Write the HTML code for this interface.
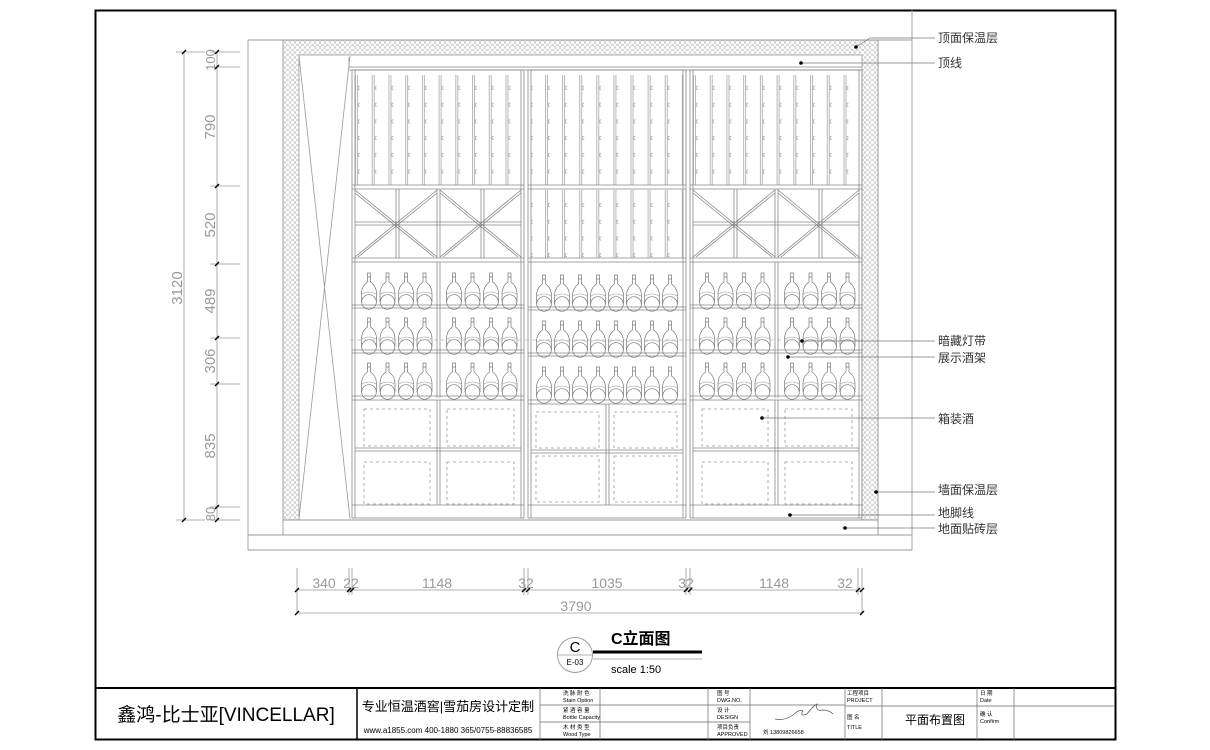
<!DOCTYPE html>
<html><head><meta charset="utf-8">
<style>
html,body{margin:0;padding:0;background:#fff;}
svg{display:block;}
text{font-family:"Liberation Sans","Noto Sans CJK SC",sans-serif;}
</style></head>
<body>
<svg width="1210" height="750" viewBox="0 0 1210 750" xmlns="http://www.w3.org/2000/svg">
<defs>
  <pattern id="hex" x="0" y="0" width="5" height="5" patternUnits="userSpaceOnUse">
    <circle cx="2.5" cy="2.5" r="2.1" fill="none" stroke="#aaa" stroke-width="0.5"/>
  </pattern>
  <pattern id="peg" x="355" y="80" width="16.72" height="16.72" patternUnits="userSpaceOnUse">
    <line x1="0.5" y1="0" x2="0.5" y2="16.72" stroke="#999" stroke-width="0.7"/>
    <line x1="2.5" y1="0" x2="2.5" y2="16.72" stroke="#999" stroke-width="0.7"/>
    <path d="M-2 6.5 h1.5 v3 h-1.5 M5 6.5 h-1.5 v3 h1.5" fill="none" stroke="#999" stroke-width="0.6"/>
  </pattern>
  <pattern id="pegm" x="545" y="80" width="17.1" height="16.72" patternUnits="userSpaceOnUse">
    <line x1="0.5" y1="0" x2="0.5" y2="16.72" stroke="#999" stroke-width="0.7"/>
    <line x1="2.5" y1="0" x2="2.5" y2="16.72" stroke="#999" stroke-width="0.7"/>
    <path d="M-2 6.5 h1.5 v3 h-1.5 M5 6.5 h-1.5 v3 h1.5" fill="none" stroke="#999" stroke-width="0.6"/>
  </pattern>
  <g id="bottle">
    <path d="M-1.5 0 h3 v4 h-3 z M-1.5 4 v5 q-6 4 -6 12 v8 M1.5 4 v5 q6 4 6 12 v8" fill="none" stroke="#777" stroke-width="0.7"/>
    <circle cx="0" cy="29" r="7.3" fill="none" stroke="#777" stroke-width="0.7"/>
    <path d="M-7 21 q7 -4 14 0" fill="none" stroke="#999" stroke-width="0.6"/>
  </g>
  <g id="row4">
    <use href="#bottle" x="0"/><use href="#bottle" x="18.5"/><use href="#bottle" x="37"/><use href="#bottle" x="55.5"/>
  </g>
  <g id="row8">
    <use href="#bottle" x="0"/><use href="#bottle" x="18"/><use href="#bottle" x="36"/><use href="#bottle" x="54"/>
    <use href="#bottle" x="72"/><use href="#bottle" x="90"/><use href="#bottle" x="108"/><use href="#bottle" x="126"/>
  </g>
  <g id="side" fill="none" stroke="#888" stroke-width="0.8">
    <rect x="352" y="70" width="172" height="448"/>
    <line x1="355" y1="70" x2="355" y2="518"/>
    <line x1="521" y1="70" x2="521" y2="518"/>
    <rect x="355" y="75" width="166" height="110" fill="url(#peg)" stroke="none"/>
    <line x1="352" y1="185" x2="524" y2="185"/><line x1="352" y1="189" x2="524" y2="189"/>
    <line x1="396" y1="189" x2="396" y2="258"/><line x1="399" y1="189" x2="399" y2="258"/>
    <line x1="437" y1="189" x2="437" y2="258"/><line x1="440" y1="189" x2="440" y2="258"/>
    <line x1="481" y1="189" x2="481" y2="258"/><line x1="484" y1="189" x2="484" y2="258"/>
    <line x1="355" y1="222" x2="521" y2="222"/><line x1="355" y1="225" x2="521" y2="225"/>
    <path d="M355 190 L437 257 M355 193 L434 257 M437 190 L355 257 M437 193 L358 257 M440 190 L521 257 M440 193 L518 257 M521 190 L440 257 M521 193 L443 257"/>
    <line x1="352" y1="258" x2="524" y2="258"/><line x1="352" y1="262" x2="524" y2="262"/>
    <line x1="437" y1="262" x2="437" y2="398"/><line x1="440" y1="262" x2="440" y2="398"/>
    <line x1="352" y1="305" x2="524" y2="305"/><line x1="352" y1="308" x2="524" y2="308"/>
    <line x1="352" y1="350" x2="524" y2="350"/><line x1="352" y1="353" x2="524" y2="353"/>
    <line x1="352" y1="396" x2="524" y2="396"/><line x1="352" y1="400" x2="524" y2="400"/>
    <line x1="437" y1="400" x2="437" y2="505"/><line x1="440" y1="400" x2="440" y2="505"/>
    <line x1="355" y1="448" x2="521" y2="448"/><line x1="355" y1="451" x2="521" y2="451"/>
    <line x1="352" y1="505" x2="524" y2="505"/>
    <g stroke-dasharray="3,3" stroke="#999">
      <rect x="364" y="409" width="66" height="37"/><rect x="447" y="409" width="67" height="37"/>
      <rect x="364" y="462" width="66" height="42"/><rect x="447" y="462" width="67" height="42"/>
    </g>
  </g>
  <g id="sideb">
    <use href="#row4" x="369" y="273"/><use href="#row4" x="454" y="273"/>
    <use href="#row4" x="369" y="318"/><use href="#row4" x="454" y="318"/>
    <use href="#row4" x="369" y="363"/><use href="#row4" x="454" y="363"/>
  </g>
</defs>

<rect width="1210" height="750" fill="#fff"/>
<rect x="95.5" y="10.5" width="1020" height="729" fill="none" stroke="#000" stroke-width="2"/>
<line x1="95" y1="688" x2="1116" y2="688" stroke="#000" stroke-width="2"/>

<g fill="none" stroke="#999" stroke-width="0.9">
  <line x1="248" y1="40" x2="912" y2="40"/>
  <line x1="248" y1="40" x2="248" y2="550"/>
  <line x1="912" y1="10" x2="912" y2="550"/>
  <line x1="248" y1="550" x2="912" y2="550"/>
  <line x1="248" y1="535" x2="912" y2="535"/>
  <line x1="283" y1="520" x2="878" y2="520"/>
  <line x1="283" y1="40" x2="283" y2="535"/>
  <line x1="878" y1="40" x2="878" y2="535"/>
</g>
<rect x="283" y="40" width="595" height="15" fill="url(#hex)"/>
<rect x="283" y="55" width="16" height="465" fill="url(#hex)"/>
<rect x="862" y="55" width="16" height="465" fill="url(#hex)"/>
<path d="M283 40 H878 V520 M299 520 V55 H862 V520" fill="none" stroke="#999" stroke-width="0.8"/>
<path d="M299 56 L350 519 M350 56 L299 519" stroke="#999" stroke-width="0.8" fill="none"/>
<line x1="349" y1="57" x2="349" y2="68" stroke="#999" stroke-width="0.8"/>
<line x1="349" y1="67" x2="862" y2="67" stroke="#888" stroke-width="0.8"/>
<line x1="349" y1="70" x2="862" y2="70" stroke="#888" stroke-width="0.8"/>

<use href="#side"/><use href="#sideb"/>
<use href="#side" x="338"/><use href="#sideb" x="338"/>

<g fill="none" stroke="#888" stroke-width="0.8">
  <rect x="528" y="70" width="158" height="448"/>
  <line x1="531" y1="70" x2="531" y2="518"/><line x1="683" y1="70" x2="683" y2="518"/>
  <rect x="531" y="75" width="152" height="110" fill="url(#pegm)" stroke="none"/>
  <line x1="528" y1="185" x2="686" y2="185"/><line x1="528" y1="189" x2="686" y2="189"/>
  <rect x="531" y="190" width="152" height="68" fill="url(#pegm)" stroke="none"/>
  <line x1="528" y1="258" x2="686" y2="258"/><line x1="528" y1="262" x2="686" y2="262"/>
  <line x1="528" y1="307" x2="686" y2="307"/><line x1="528" y1="310" x2="686" y2="310"/>
  <line x1="528" y1="353" x2="686" y2="353"/><line x1="528" y1="356" x2="686" y2="356"/>
  <line x1="528" y1="400" x2="686" y2="400"/><line x1="528" y1="404" x2="686" y2="404"/>
  <line x1="606" y1="404" x2="606" y2="505"/><line x1="609" y1="404" x2="609" y2="505"/>
  <line x1="531" y1="450" x2="683" y2="450"/><line x1="531" y1="453" x2="683" y2="453"/>
  <line x1="528" y1="505" x2="686" y2="505"/>
  <g stroke-dasharray="3,3" stroke="#999">
    <rect x="536" y="412" width="63" height="36"/><rect x="614" y="412" width="63" height="36"/>
    <rect x="536" y="456" width="63" height="46"/><rect x="614" y="456" width="63" height="46"/>
  </g>
</g>
<use href="#row8" x="544" y="275"/>
<use href="#row8" x="544" y="321"/>
<use href="#row8" x="544" y="367"/>
<line x1="350" y1="340" x2="862" y2="340" stroke="#999" stroke-width="0.6" stroke-dasharray="4,3"/>

<g stroke="#999" stroke-width="0.8" fill="none">
  <line x1="184" y1="52" x2="184" y2="520"/>
  <line x1="217" y1="52" x2="217" y2="520"/>
  <line x1="176" y1="52" x2="205" y2="52"/><line x1="176" y1="520" x2="205" y2="520"/>
  <line x1="210" y1="52" x2="240" y2="52"/><line x1="210" y1="67" x2="240" y2="67"/>
  <line x1="210" y1="186" x2="240" y2="186"/><line x1="210" y1="264" x2="240" y2="264"/>
  <line x1="210" y1="338" x2="240" y2="338"/><line x1="210" y1="384" x2="240" y2="384"/>
  <line x1="210" y1="507" x2="240" y2="507"/><line x1="210" y1="520" x2="240" y2="520"/>
</g>
<g stroke="#000" stroke-width="1.4">
  <path d="M182 54 l4 -4 M182 522 l4 -4 M215 54 l4 -4 M215 69 l4 -4 M215 188 l4 -4 M215 266 l4 -4 M215 340 l4 -4 M215 386 l4 -4 M215 509 l4 -4 M215 522 l4 -4"/>
</g>
<g fill="#999" font-size="15" text-anchor="middle">
  <text transform="translate(182,288) rotate(-90)">3120</text>
  <text transform="translate(215,60) rotate(-90)" font-size="13">100</text>
  <text transform="translate(215,127) rotate(-90)">790</text>
  <text transform="translate(215,225) rotate(-90)">520</text>
  <text transform="translate(215,301) rotate(-90)">489</text>
  <text transform="translate(215,361) rotate(-90)">306</text>
  <text transform="translate(215,446) rotate(-90)">835</text>
  <text transform="translate(215,514) rotate(-90)" font-size="13">80</text>
</g>

<g stroke="#999" stroke-width="0.8" fill="none">
  <line x1="297" y1="590" x2="862" y2="590"/>
  <line x1="297" y1="613" x2="862" y2="613"/>
  <line x1="297" y1="568" x2="297" y2="613"/>
  <line x1="349" y1="568" x2="349" y2="595"/><line x1="352" y1="568" x2="352" y2="595"/>
  <line x1="524" y1="568" x2="524" y2="595"/><line x1="528" y1="568" x2="528" y2="595"/>
  <line x1="686" y1="568" x2="686" y2="595"/><line x1="690" y1="568" x2="690" y2="595"/>
  <line x1="858" y1="568" x2="858" y2="595"/><line x1="862" y1="568" x2="862" y2="613"/>
</g>
<g stroke="#000" stroke-width="1.4">
  <path d="M295 592 l4 -4 M295 615 l4 -4 M347 592 l4 -4 M350 592 l4 -4 M522 592 l4 -4 M526 592 l4 -4 M684 592 l4 -4 M688 592 l4 -4 M856 592 l4 -4 M860 592 l4 -4 M860 615 l4 -4"/>
</g>
<g fill="#999" font-size="14" text-anchor="middle">
  <text x="324" y="588">340</text><text x="351" y="588">22</text>
  <text x="437" y="588">1148</text><text x="526" y="588">32</text>
  <text x="607" y="588">1035</text><text x="686" y="588">32</text>
  <text x="774" y="588">1148</text><text x="845" y="588">32</text>
  <text x="576" y="611">3790</text>
</g>

<g stroke="#777" stroke-width="0.7" fill="none">
  <polyline points="856,47 870,38 935,38"/>
  <line x1="801" y1="63" x2="935" y2="63"/>
  <line x1="802" y1="341" x2="935" y2="341"/>
  <line x1="788" y1="357" x2="935" y2="357"/>
  <line x1="762" y1="418" x2="935" y2="418"/>
  <line x1="876" y1="492" x2="935" y2="492"/>
  <line x1="790" y1="515" x2="935" y2="515"/>
  <line x1="845" y1="528" x2="935" y2="528"/>
</g>
<g fill="#000">
  <circle cx="856" cy="47" r="1.8"/><circle cx="801" cy="63" r="1.8"/>
  <circle cx="802" cy="341" r="1.8"/><circle cx="788" cy="357" r="1.8"/>
  <circle cx="762" cy="418" r="1.8"/><circle cx="876" cy="492" r="1.8"/>
  <circle cx="790" cy="515" r="1.8"/><circle cx="845" cy="528" r="1.8"/>
</g>
<g fill="#333" font-size="12">
  <text x="938" y="42">顶面保温层</text>
  <text x="938" y="67">顶线</text>
  <text x="938" y="345">暗藏灯带</text>
  <text x="938" y="362">展示酒架</text>
  <text x="938" y="423">箱装酒</text>
  <text x="938" y="494">墙面保温层</text>
  <text x="938" y="517">地脚线</text>
  <text x="938" y="533">地面贴砖层</text>
</g>

<circle cx="575" cy="655" r="17.5" fill="none" stroke="#999" stroke-width="0.9"/>
<line x1="557" y1="655" x2="593" y2="655" stroke="#999" stroke-width="0.8"/>
<text x="575" y="652" font-family="Liberation Serif,serif" font-size="15" text-anchor="middle" fill="#000">C</text>
<text x="575" y="665" font-family="Liberation Serif,serif" font-size="8" text-anchor="middle" fill="#000">E-03</text>
<line x1="593" y1="652" x2="702" y2="652" stroke="#000" stroke-width="3"/>
<line x1="593" y1="659" x2="702" y2="659" stroke="#999" stroke-width="0.8"/>
<text x="611" y="644" font-size="16" font-weight="bold" fill="#000">C立面图</text>
<text x="611" y="673" font-size="11" fill="#000" font-family="Liberation Mono,monospace">scale 1:50</text>

<g stroke="#666" stroke-width="0.7" fill="none">
  <line x1="357" y1="688" x2="357" y2="740" stroke="#000" stroke-width="1.5"/>
  <line x1="540" y1="688" x2="540" y2="740"/>
  <line x1="600" y1="688" x2="600" y2="740"/>
  <line x1="708" y1="688" x2="708" y2="740"/>
  <line x1="750" y1="688" x2="750" y2="740"/>
  <line x1="845" y1="688" x2="845" y2="740"/>
  <line x1="882" y1="688" x2="882" y2="740"/>
  <line x1="977" y1="688" x2="977" y2="740"/>
  <line x1="1014" y1="688" x2="1014" y2="740"/>
  <line x1="540" y1="705" x2="708" y2="705"/><line x1="540" y1="722" x2="708" y2="722"/>
  <line x1="708" y1="705" x2="845" y2="705"/><line x1="708" y1="722" x2="750" y2="722"/>
  <line x1="845" y1="706" x2="977" y2="706"/>
  <line x1="977" y1="706" x2="1115" y2="706"/>
</g>
<text x="226" y="721" font-size="19" text-anchor="middle" fill="#000">鑫鸿-比士亚[VINCELLAR]</text>
<text x="448" y="711" font-size="13" text-anchor="middle" fill="#000">专业恒温酒窖|雪茄房设计定制</text>
<text x="448" y="733" font-size="8" text-anchor="middle" fill="#000">www.a1855.com 400-1880 365/0755-88836585</text>
<g font-size="5.5" fill="#000">
  <text x="563" y="695">洗 脉 附 色</text><text x="563" y="702">Stain Option</text>
  <text x="563" y="712">紧 酒 容 量</text><text x="563" y="719">Bottle Capacity</text>
  <text x="563" y="729">木 材 类 型</text><text x="563" y="736">Wood Type</text>
  <text x="717" y="695">图 号</text><text x="717" y="702">DWG.NO.</text>
  <text x="717" y="712">设 计</text><text x="717" y="719">DESIGN</text>
  <text x="717" y="729">项目负责</text><text x="717" y="736">APPROVED</text>
  <text x="847" y="695">工程项目</text><text x="847" y="702">PROJECT</text>
  <text x="847" y="719">图 名</text><text x="847" y="729">TITLE</text>
  <text x="980" y="695">日 期</text><text x="980" y="702">Date</text>
  <text x="980" y="716">确 认</text><text x="980" y="723">Confirm</text>
  <text x="763" y="734">刘 13809826658</text>
</g>
<path d="M775 719 q10 2 18 -4 q6 -6 10 -4 q-4 6 4 3 q6 -8 10 -10 q-2 8 6 6 q6 0 10 4" fill="none" stroke="#555" stroke-width="0.7"/>
<text x="935" y="724" font-size="12" text-anchor="middle" fill="#000">平面布置图</text>
</svg>
</body></html>
